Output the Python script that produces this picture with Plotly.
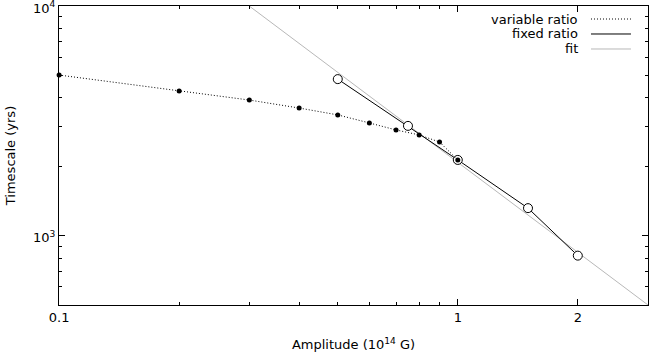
import plotly.graph_objects as go

# Data
var_amp = [0.1, 0.2, 0.3, 0.4, 0.5, 0.6, 0.7, 0.8, 0.9, 1.0]
var_time = [5010, 4270, 3900, 3600, 3360, 3100, 2890, 2750, 2560, 2140]

fix_amp = [0.5, 0.75, 1.0, 1.5, 2.0]
fix_time = [4810, 3010, 2140, 1320, 820]

fit_amp = [0.3, 3.0]
fit_time = [10000, 500]

x_tickvals = [0.1, 1, 2]
x_ticktext = ["0.1", "1", "2"]
y_tickvals = [1000, 10000]
y_ticktext = ["10<sup>3</sup>", "10<sup>4</sup>"]
x_minor = [0.2, 0.3, 0.4, 0.5, 0.6, 0.7, 0.8, 0.9, 3]
y_minor = [600, 700, 800, 900, 2000, 3000, 4000, 5000, 6000, 7000, 8000, 9000]

legend_names = ["variable ratio", "fixed ratio", "fit"]
legend_colors = ["black", "black", "#b8b8b8"]
legend_dash = ["1px,2px", "solid", "solid"]

FONT = "DejaVu Sans"

fig = go.Figure()
fig.add_trace(go.Scatter(x=fit_amp, y=fit_time, mode="lines",
                         line=dict(color="#b8b8b8", width=1), showlegend=False))
fig.add_trace(go.Scatter(x=fix_amp, y=fix_time, mode="lines+markers",
                         line=dict(color="black", width=1),
                         marker=dict(symbol="circle", size=9, color="white",
                                     line=dict(color="black", width=1)),
                         showlegend=False))
fig.add_trace(go.Scatter(x=var_amp, y=var_time, mode="lines+markers",
                         line=dict(color="black", width=1, dash="1px,2px"),
                         marker=dict(symbol="circle", size=5, color="black"),
                         showlegend=False, cliponaxis=False))

# custom gnuplot-style legend (text right, sample line on the right)
ys = [0.9565, 0.9064, 0.8562]
for name, col, dash, yy in zip(legend_names, legend_colors, legend_dash, ys):
    fig.add_annotation(x=0.8846, y=yy, xref="paper", yref="paper", text=name,
                       showarrow=False, xanchor="right", yanchor="middle",
                       font=dict(family=FONT, size=13, color="black"))
    fig.add_shape(type="line", xref="paper", yref="paper", x0=0.9032, x1=0.9711,
                  y0=yy, y1=yy, line=dict(color=col, width=1, dash=dash))

axis_common = dict(showline=True, linecolor="black", linewidth=1, mirror="ticks",
                   ticks="inside", ticklen=6, tickcolor="black", showgrid=False,
                   zeroline=False, ticklabeloverflow="allow", automargin=False,
                   tickfont=dict(family=FONT, size=13, color="black"))

fig.update_xaxes(type="log", range=[-1.0003, 0.4771], tickmode="array",
                 tickvals=x_tickvals, ticktext=x_ticktext,
                 minor=dict(tickvals=x_minor, ticks="inside", ticklen=3, tickcolor="black",
                            showgrid=False),
                 title=dict(text="Amplitude (10<sup>14</sup> G)", standoff=16,
                            font=dict(family=FONT, size=13, color="black")),
                 **axis_common)
fig.update_yaxes(type="log", range=[2.69897, 4.0004], tickmode="array",
                 tickvals=y_tickvals, ticktext=y_ticktext, ticklabelshift=2,
                 minor=dict(tickvals=y_minor, ticks="inside", ticklen=3, tickcolor="black",
                            showgrid=False),
                 title=dict(text="Timescale (yrs)", standoff=14,
                            font=dict(family=FONT, size=13, color="black")),
                 **axis_common)

fig.update_layout(width=659, height=360, margin=dict(l=59, r=11, t=6, b=55),
                  plot_bgcolor="white", paper_bgcolor="white",
                  font=dict(family=FONT, size=13, color="black"), showlegend=False)

fig.write_html("out.html")
